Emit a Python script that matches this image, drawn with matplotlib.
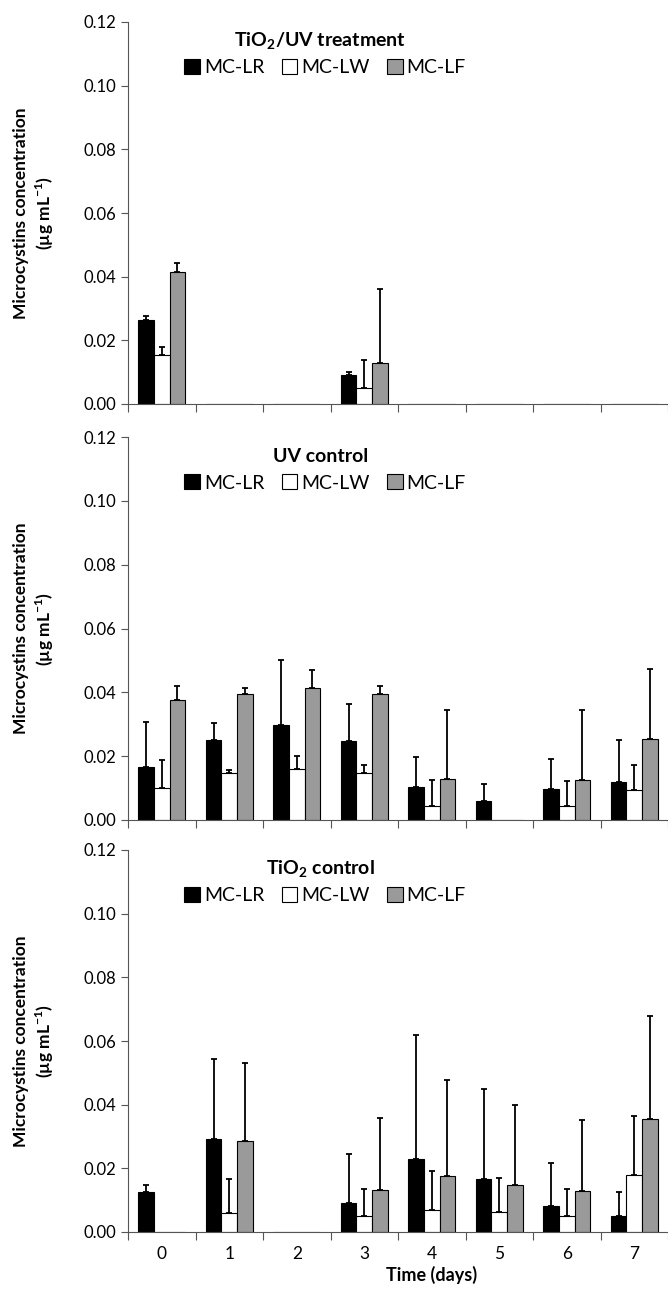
import numpy as np
import matplotlib
matplotlib.use("Agg")
import matplotlib.pyplot as plt

plt.rcParams['font.family'] = ['Lato', 'DejaVu Sans']
plt.rcParams['mathtext.fontset'] = 'custom'
plt.rcParams['mathtext.rm'] = 'Lato'
plt.rcParams['mathtext.bf'] = 'Lato:bold'

days = [0, 1, 2, 3, 4, 5, 6, 7]
series = ["MC-LR", "MC-LW", "MC-LF"]

# TiO2/UV treatment
uvt_lr = [0.0265, 0, 0, 0.0090, 0, 0, 0, 0]
uvt_lr_sd = [0.0010, 0, 0, 0.0012, 0, 0, 0, 0]
uvt_lw = [0.0155, 0, 0, 0.0050, 0, 0, 0, 0]
uvt_lw_sd = [0.0023, 0, 0, 0.0087, 0, 0, 0, 0]
uvt_lf = [0.0415, 0, 0, 0.0130, 0, 0, 0, 0]
uvt_lf_sd = [0.0028, 0, 0, 0.0232, 0, 0, 0, 0]

# UV control
uv_lr = [0.0165, 0.0250, 0.0298, 0.0246, 0.0103, 0.0060, 0.0097, 0.0120]
uv_lr_sd = [0.0142, 0.0054, 0.0202, 0.0116, 0.0094, 0.0052, 0.0093, 0.0130]
uv_lw = [0.0100, 0.0147, 0.0159, 0.0148, 0.0044, 0, 0.0045, 0.0093]
uv_lw_sd = [0.0089, 0.0010, 0.0040, 0.0023, 0.0080, 0, 0.0077, 0.0079]
uv_lf = [0.0375, 0.0394, 0.0414, 0.0394, 0.0127, 0, 0.0126, 0.0255]
uv_lf_sd = [0.0046, 0.0019, 0.0056, 0.0027, 0.0218, 0, 0.0218, 0.0218]

# TiO2 control
ti_lr = [0.0126, 0.0291, 0, 0.0091, 0.0228, 0.0165, 0.0082, 0.0050]
ti_lr_sd = [0.0021, 0.0254, 0, 0.0155, 0.0392, 0.0283, 0.0136, 0.0077]
ti_lw = [0, 0.0060, 0, 0.0051, 0.0070, 0.0063, 0.0050, 0.0180]
ti_lw_sd = [0, 0.0107, 0, 0.0083, 0.0123, 0.0108, 0.0084, 0.0184]
ti_lf = [0, 0.0285, 0, 0.0132, 0.0175, 0.0148, 0.0128, 0.0354]
ti_lf_sd = [0, 0.0245, 0, 0.0225, 0.0301, 0.0252, 0.0224, 0.0326]

panels = [
    ("TiO$_\\mathbf{2}$/UV treatment", [uvt_lr, uvt_lw, uvt_lf], [uvt_lr_sd, uvt_lw_sd, uvt_lf_sd]),
    ("UV control", [uv_lr, uv_lw, uv_lf], [uv_lr_sd, uv_lw_sd, uv_lf_sd]),
    ("TiO$_\\mathbf{2}$ control", [ti_lr, ti_lw, ti_lf], [ti_lr_sd, ti_lw_sd, ti_lf_sd]),
]

colors = ["black", "white", "#9a9a9a"]
W, H = 668, 1294
fig = plt.figure(figsize=(W / 100, H / 100), dpi=100)

# (top, bottom) of each axes in pixels
boxes = [(22, 404), (437, 820), (850, 1232)]
left_px = 128

x = np.arange(len(days))
bw = 0.23
for i, (title, vals, sds) in enumerate(panels):
    top, bot = boxes[i]
    ax = fig.add_axes([left_px / W, 1 - bot / H, 1 - left_px / W, (bot - top) / H])
    handles = []
    for j in range(3):
        xs = x + (j - 1) * bw
        v = np.array(vals[j])
        s = np.array(sds[j])
        b = ax.bar(xs, v, bw, color=colors[j], edgecolor="black", linewidth=0.8,
                   label=series[j], zorder=2)
        handles.append(b)
        m = s > 0
        ax.errorbar(xs[m], v[m], yerr=[np.zeros(m.sum()), s[m]], fmt="none",
                    ecolor="black", elinewidth=1.3, capsize=2, capthick=1.3, zorder=3)
    ax.set_xlim(-0.5, 7.49)
    ax.set_ylim(0, 0.12)
    ax.set_yticks(np.arange(0, 0.121, 0.02))
    ax.set_yticklabels([f"{t:.2f}" for t in np.arange(0, 0.121, 0.02)], fontsize=12)
    ax.set_xticks(np.arange(-0.5, 7.6, 1), minor=False)
    ax.set_xticklabels([])
    ax.set_xticks(x, minor=True)
    ax.tick_params(axis="x", which="major", length=6, direction="out", color="#555555")
    ax.tick_params(axis="x", which="minor", length=0, pad=10)
    ax.tick_params(axis="y", length=5, color="#555555")
    for sp in ["top", "right"]:
        ax.spines[sp].set_visible(False)
    ax.spines["left"].set_color("#555555")
    ax.spines["bottom"].set_color("#555555")
    ax.set_ylabel("Microcystins concentration\n(µg mL$^{\\mathbf{-1}}$)", fontsize=12.5,
                  fontweight="bold", labelpad=20, linespacing=1.25)
    ax.text(0.356, 0.95, title, transform=ax.transAxes, ha="center", va="center",
            fontsize=14, fontweight="bold")
    ax.legend(handles=handles, loc="center", bbox_to_anchor=(0.365, 0.88), ncol=3,
              frameon=False, fontsize=14, handlelength=0.8, handleheight=0.8,
              handletextpad=0.2, columnspacing=0.9)
    if i == 2:
        ax.set_xticklabels([str(d) for d in days], minor=True, fontsize=12.5)
        ax.set_xlabel("Time (days)", fontsize=13, fontweight="bold", labelpad=3, x=0.563)

fig.savefig("out.png", dpi=100)
